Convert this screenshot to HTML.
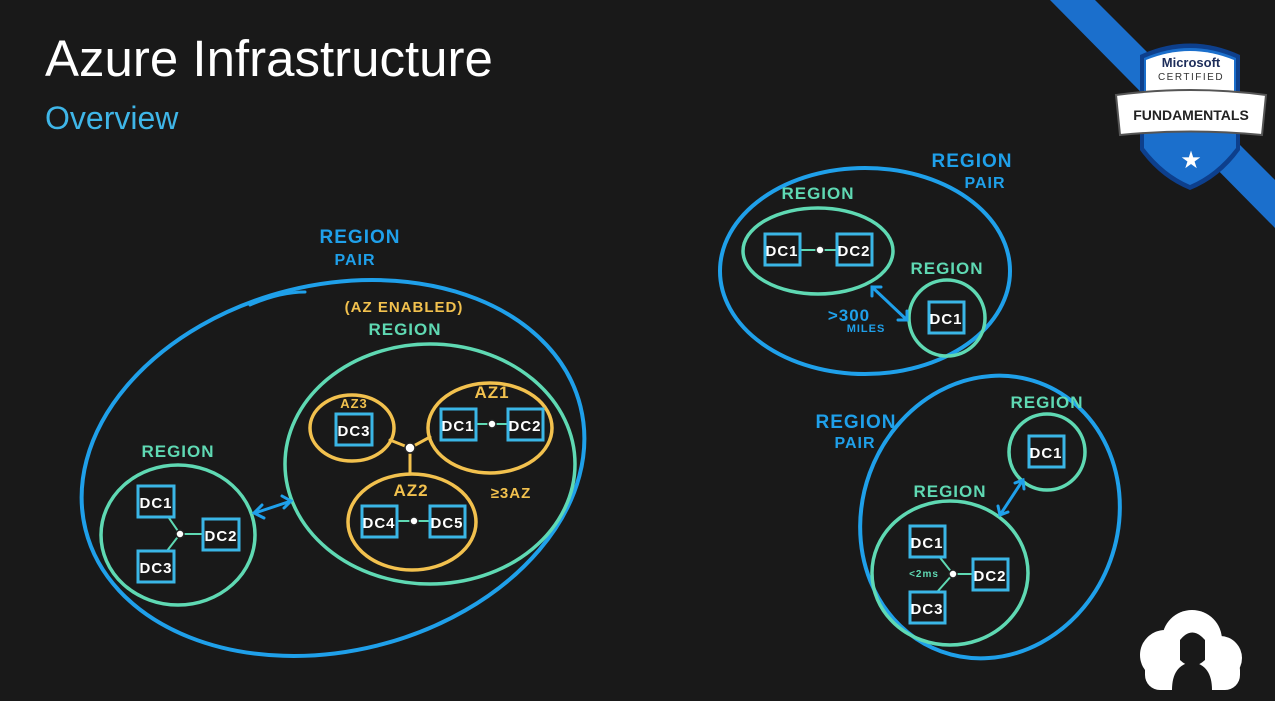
<!DOCTYPE html>
<html><head><meta charset="utf-8"><style>
body{margin:0;background:#191919;}
svg{display:block}
.t{font-family:"Liberation Sans",sans-serif}
.h{font-family:"Liberation Sans",sans-serif;font-weight:bold;letter-spacing:1px}
</style></head><body>
<svg width="1275" height="701" viewBox="0 0 1275 701" xmlns="http://www.w3.org/2000/svg">
<rect width="1275" height="701" fill="#191919"/>
<text x="45" y="76" class="t" font-size="51" fill="#fff">Azure Infrastructure</text>
<text x="45" y="129" class="t" font-size="32" fill="#3fb6e8">Overview</text>

<!-- badge band -->
<polygon points="1050,0 1095,0 1275,180 1275,228" fill="#1b6fcc"/>
<path d="M1140,55 Q1190,32 1240,55 L1240,150 Q1220,178 1190,190 Q1160,178 1140,150 Z" fill="#0d3f8c"/>
<path d="M1144,58 Q1190,38 1236,58 L1236,148 Q1216,174 1190,185 Q1164,174 1144,148 Z" fill="#1b6fcc"/>
<path d="M1146,60 Q1190,42 1234,60 L1234,92 L1146,92 Z" fill="#fff"/>
<text x="1191" y="67" text-anchor="middle" class="t" font-weight="bold" font-size="13" fill="#1d2d5a">Microsoft</text>
<text x="1191" y="80" text-anchor="middle" class="t" font-size="10" letter-spacing="1.5" fill="#333">CERTIFIED</text>
<path d="M1116,95 Q1190,85 1266,95 L1262,135 Q1190,128 1120,135 Z" fill="#fff" stroke="#555" stroke-width="2"/>
<text x="1191" y="120" text-anchor="middle" class="t" font-weight="bold" font-size="14" fill="#222">FUNDAMENTALS</text>
<text x="1191" y="168" text-anchor="middle" font-size="24" fill="#fff">★</text>

<g fill="none" stroke-linecap="round">
<ellipse cx="333" cy="468" rx="255" ry="183" transform="rotate(-14 333 468)" stroke="#1fa0ea" stroke-width="4"/>
<path d="M250,305 Q280,292 305,292" stroke="#1fa0ea" stroke-width="3"/>
<ellipse cx="430" cy="464" rx="145" ry="120" stroke="#5fd9b3" stroke-width="3.5"/>
<ellipse cx="352" cy="428" rx="42" ry="33" stroke="#f2c14e" stroke-width="3.5"/>
<ellipse cx="490" cy="428" rx="62" ry="45" stroke="#f2c14e" stroke-width="3.5"/>
<ellipse cx="412" cy="522" rx="64" ry="48" stroke="#f2c14e" stroke-width="3.5"/>
<path d="M390,440 L410,448 L430,437 M410,448 L410,474" stroke="#f2c14e" stroke-width="3"/>
<ellipse cx="178" cy="535" rx="77" ry="70" stroke="#5fd9b3" stroke-width="3.5"/>
<path d="M255,513 L291,501 M262,505 L254,513 L264,518 M282,496 L291,501 L284,508" stroke="#1fa0ea" stroke-width="3"/>
<path d="M160,505 L180,534 L205,534 M180,534 L160,560 M458,424 L510,424 M378,521 L432,521" stroke="#5fd9b3" stroke-width="2"/>

<ellipse cx="865" cy="271" rx="145" ry="103" stroke="#1fa0ea" stroke-width="4"/>
<ellipse cx="818" cy="251" rx="75" ry="43" stroke="#5fd9b3" stroke-width="3.5"/>
<circle cx="947" cy="318" r="38" stroke="#5fd9b3" stroke-width="3.5"/>
<path d="M872,287 L907,320 M872,296 L872,287 L881,287 M898,320 L907,320 L907,311" stroke="#1fa0ea" stroke-width="3"/>
<path d="M800,250 L840,250" stroke="#5fd9b3" stroke-width="2"/>

<ellipse cx="990" cy="517" rx="128" ry="143" transform="rotate(20 990 517)" stroke="#1fa0ea" stroke-width="4"/>
<circle cx="1047" cy="452" r="38" stroke="#5fd9b3" stroke-width="3.5"/>
<ellipse cx="950" cy="573" rx="78" ry="72" stroke="#5fd9b3" stroke-width="3.5"/>
<path d="M1000,515 L1023,480 M998,506 L1000,515 L1008,512 M1015,483 L1023,480 L1024,489" stroke="#1fa0ea" stroke-width="3"/>
<path d="M930,545 L953,574 L975,574 M953,574 L930,600" stroke="#5fd9b3" stroke-width="2"/>
</g>
<g fill="#fff" stroke="#222" stroke-width="1.5">
<circle cx="410" cy="448" r="5"/><circle cx="180" cy="534" r="4"/><circle cx="492" cy="424" r="4"/><circle cx="414" cy="521" r="4"/><circle cx="820" cy="250" r="4"/><circle cx="953" cy="574" r="4"/>
</g>

<g class="h" font-size="15" fill="#fff" text-anchor="middle">
<g stroke="#3ab6e6" stroke-width="3" fill="#191919">
<rect x="336" y="414" width="36" height="31"/><rect x="441" y="409" width="35" height="31"/><rect x="508" y="409" width="35" height="31"/>
<rect x="362" y="506" width="35" height="31"/><rect x="430" y="506" width="35" height="31"/>
<rect x="138" y="486" width="36" height="31"/><rect x="203" y="519" width="36" height="31"/><rect x="138" y="551" width="36" height="31"/>
<rect x="765" y="234" width="35" height="31"/><rect x="837" y="234" width="35" height="31"/><rect x="929" y="302" width="35" height="31"/>
<rect x="1029" y="436" width="35" height="31"/><rect x="910" y="526" width="35" height="31"/><rect x="973" y="559" width="35" height="31"/><rect x="910" y="592" width="35" height="31"/>
</g>
<text x="354" y="436">DC3</text><text x="458" y="431">DC1</text><text x="525" y="431">DC2</text>
<text x="379" y="528">DC4</text><text x="447" y="528">DC5</text>
<text x="156" y="508">DC1</text><text x="221" y="541">DC2</text><text x="156" y="573">DC3</text>
<text x="782" y="256">DC1</text><text x="854" y="256">DC2</text><text x="946" y="324">DC1</text>
<text x="1046" y="458">DC1</text><text x="927" y="548">DC1</text><text x="990" y="581">DC2</text><text x="927" y="614">DC3</text>
</g>

<g class="h" text-anchor="middle">
<text x="360" y="243" font-size="19" fill="#1fa0ea">REGION</text>
<text x="355" y="265" font-size="16" fill="#1fa0ea">PAIR</text>
<text x="404" y="312" font-size="15" fill="#f2c14e">(AZ ENABLED)</text>
<text x="405" y="335" font-size="17" fill="#5fd9b3">REGION</text>
<text x="354" y="408" font-size="13" fill="#f2c14e">AZ3</text>
<text x="492" y="398" font-size="17" fill="#f2c14e">AZ1</text>
<text x="411" y="496" font-size="17" fill="#f2c14e">AZ2</text>
<text x="511" y="498" font-size="15" fill="#f2c14e">≥3AZ</text>
<text x="178" y="457" font-size="17" fill="#5fd9b3">REGION</text>
<text x="972" y="167" font-size="19" fill="#1fa0ea">REGION</text>
<text x="985" y="188" font-size="16" fill="#1fa0ea">PAIR</text>
<text x="818" y="199" font-size="17" fill="#5fd9b3">REGION</text>
<text x="947" y="274" font-size="17" fill="#5fd9b3">REGION</text>
<text x="849" y="321" font-size="17" fill="#1fa0ea">&gt;300</text>
<text x="866" y="332" font-size="11" fill="#1fa0ea">MILES</text>
<text x="856" y="428" font-size="19" fill="#1fa0ea">REGION</text>
<text x="855" y="448" font-size="16" fill="#1fa0ea">PAIR</text>
<text x="1047" y="408" font-size="17" fill="#5fd9b3">REGION</text>
<text x="950" y="497" font-size="17" fill="#5fd9b3">REGION</text>
<text x="924" y="577" font-size="10" fill="#5fd9b3">&lt;2ms</text>
</g>

<g fill="#fff">
<circle cx="1165" cy="655" r="25"/><circle cx="1192" cy="640" r="30"/><circle cx="1220" cy="658" r="22"/>
<rect x="1145" y="655" width="95" height="35" rx="15"/>
</g>
<path d="M1172,690 Q1172,665 1192,662 Q1212,665 1212,690 Z M1180,640 Q1192,625 1205,640 L1205,660 Q1192,672 1180,660 Z" fill="#191919"/>
</svg>
</body></html>
